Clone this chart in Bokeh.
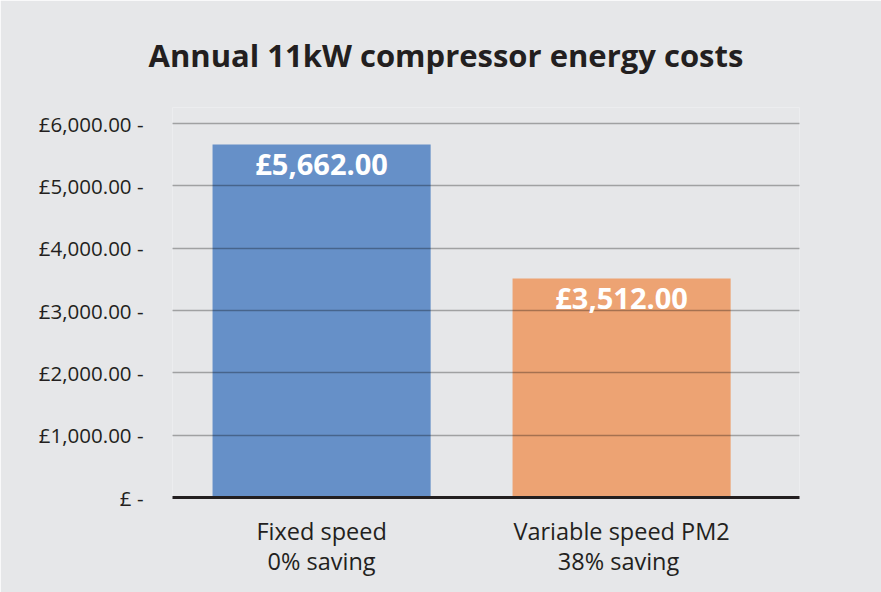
from bokeh.plotting import figure
from bokeh.models import ColumnDataSource, LabelSet, Range1d, FixedTicker, Title
from bokeh.core.properties import value
from bokeh.embed import file_html
from bokeh.resources import INLINE

title_text = "Annual 11kW compressor energy costs"
categories = ["Fixed speed\n0% saving", "Variable speed PM2\n 38% saving"]
values = [5662.00, 3512.00]
bar_colors = ["#6690c8", "#eda373"]
y_ticks = [0, 1000, 2000, 3000, 4000, 5000, 6000]
y_tick_labels = ["£ -", "£1,000.00 -", "£2,000.00 -", "£3,000.00 -",
                 "£4,000.00 -", "£5,000.00 -", "£6,000.00 -"]

BG = "#e6e7e9"
INK = "#231f20"
FONT = "Open Sans"

xs = [i + 1 for i in range(len(categories))]
src = ColumnDataSource(dict(
    x=xs, top=values, color=bar_colors,
    label=["£{:,.2f}".format(v) for v in values],
))

p = figure(width=881, height=592, output_backend="svg", toolbar_location=None,
           x_range=Range1d(0.503, 2.593), y_range=Range1d(0, 6257),
           min_border_left=172, min_border_right=82,
           min_border_top=107, min_border_bottom=95, title=None)
p.background_fill_color = BG
p.border_fill_color = BG
p.outline_line_color = None

p.vbar(x="x", top="top", width=0.727, bottom=0, color="color", line_color=None, source=src)

p.add_layout(LabelSet(x="x", y="top", text="label", source=src, text_align="center",
                      text_baseline="alphabetic", y_offset=-30, text_color="white",
                      text_font=value(FONT), text_font_style="bold",
                      text_font_size="29px"))

p.add_layout(Title(text=title_text, align="left", offset=-24, standoff=63,
                   text_color=INK, text_font=FONT, text_font_style="bold",
                   text_font_size="31px"), "above")

# x axis
p.xaxis.ticker = FixedTicker(ticks=xs)
p.xaxis.major_label_overrides = {x: c for x, c in zip(xs, categories)}
p.xaxis.major_tick_line_color = None
p.xaxis.minor_tick_line_color = None
p.xaxis.axis_line_color = INK
p.xaxis.axis_line_width = 3
p.xaxis.major_label_text_font = FONT
p.xaxis.major_label_text_font_size = "23.5px"
p.xaxis.major_label_text_color = INK
p.xaxis.major_label_text_line_height = 0.94
p.xaxis.major_label_standoff = 11
p.xgrid.grid_line_color = None

# y axis
p.yaxis.ticker = FixedTicker(ticks=y_ticks)
p.yaxis.major_label_overrides = {t: l for t, l in zip(y_ticks, y_tick_labels)}
p.yaxis.major_tick_line_color = None
p.yaxis.minor_tick_line_color = None
p.yaxis.axis_line_color = None
p.yaxis.major_label_text_font = FONT
p.yaxis.major_label_text_font_size = "20.5px"
p.yaxis.major_label_text_color = INK
p.yaxis.major_label_standoff = 23

p.ygrid.grid_line_color = "#000000"
p.ygrid.grid_line_alpha = 0.3
p.ygrid.grid_line_width = 1.4
p.ygrid.level = "guide"

open("out.html", "w").write(file_html(p, INLINE))
